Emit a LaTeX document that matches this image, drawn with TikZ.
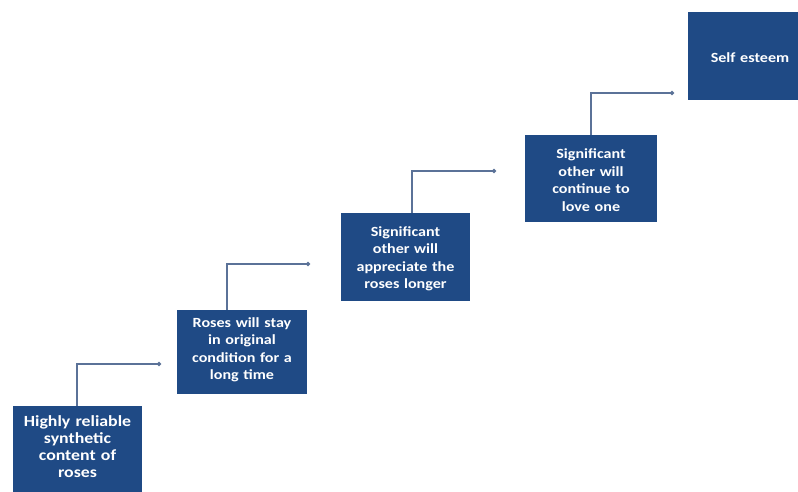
\documentclass[tikz,border=0pt]{standalone}
\usepackage{fontspec}
\setmainfont{Carlito}[FakeStretch=1.15]
\usetikzlibrary{arrows.meta}
\definecolor{boxblue}{HTML}{1F4A85}
\definecolor{linkblue}{HTML}{5B7298}
\begin{document}
\begin{tikzpicture}[x=1pt,y=-1pt,
  stepbox/.style={fill=boxblue, text=white, font=\fontsize{14}{17.5}\selectfont\bfseries, align=center, inner sep=0pt, anchor=north west},
  bigtext/.style={font=\fontsize{15.5}{17}\selectfont\bfseries},
  link/.style={draw=linkblue, line width=1.3pt, -{Circle[length=4pt]}}]
\useasboundingbox (0,0) rectangle (798,491);
\fill[white] (0,0) rectangle (798,491);
\node[stepbox, minimum width=129pt, minimum height=92pt] (b1) at (13,406) {};
\node[stepbox, bigtext, anchor=center, text width=128pt] (t1) at (77.5,446.5) {Highly reliable\\synthetic\\content of\\roses};
\node[stepbox, minimum width=130pt, minimum height=84pt] (b2) at (177,310) {};
\node[stepbox, anchor=center, text width=128pt] (t2) at (242,350) {Roses will stay\\in original\\condition for a\\long time};
\node[stepbox, minimum width=129pt, minimum height=88pt] (b3) at (341,213) {};
\node[stepbox, anchor=center, text width=127pt] (t3) at (405.5,259) {Significant\\other will\\appreciate the\\roses longer};
\node[stepbox, minimum width=132pt, minimum height=87pt] (b4) at (525,135) {};
\node[stepbox, anchor=center, text width=130pt] (t4) at (591,180) {Significant\\other will\\continue to\\love one};
\node[stepbox, minimum width=112pt, minimum height=88pt] (b5) at (688,12) {};
\node[stepbox, anchor=center, text width=108pt] (t5) at (750,58) {Self esteem};
\coordinate (e1) at (161,364);
\coordinate (e2) at (310,264);
\coordinate (e3) at (496,171);
\coordinate (e4) at (674,93);
\draw[link] (b1.north -| 77,0) |- (e1);
\draw[link] (b2.north -| 227,0) |- (e2);
\draw[link] (b3.north -| 412,0) |- (e3);
\draw[link] (b4.north -| 591,0) |- (e4);
\end{tikzpicture}
\end{document}
